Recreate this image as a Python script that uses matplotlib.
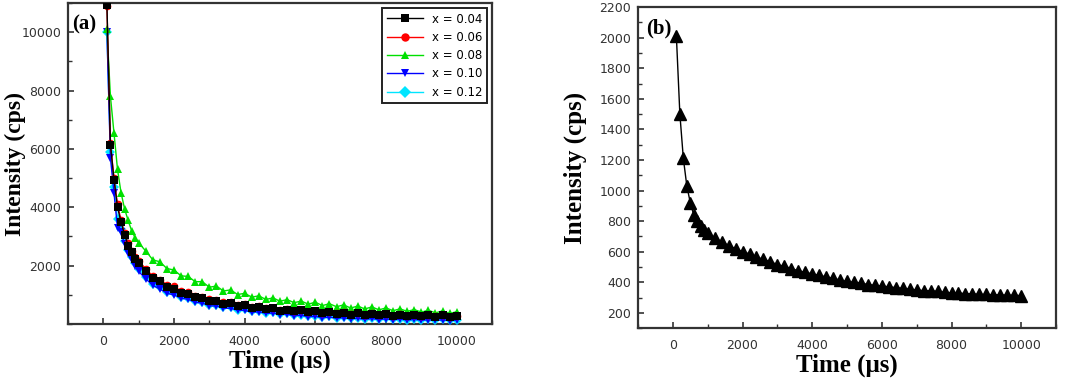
import numpy as np
import matplotlib as mpl

mpl.use('agg')

import matplotlib.pyplot as plt
from matplotlib.ticker import MultipleLocator

# time axis (us): 100..1000 every 100, then every 200 up to 10000
t = np.concatenate([np.arange(100, 1001, 100), np.arange(1200, 10001, 200)])

x004 = [10950, 6150, 4950, 4010, 3490, 3060, 2690, 2460, 2240, 2090,
        1830, 1570, 1470, 1270, 1210, 1060, 1040, 910, 890, 780,
        790, 690, 710, 610, 640, 550, 585, 505, 535, 460,
        495, 430, 465, 395, 430, 370, 410, 345, 385, 325,
        365, 310, 350, 295, 340, 280, 325, 270, 315, 260,
        305, 250, 295, 245, 280]
x006 = [10900, 6200, 5000, 4100, 3550, 3120, 2760, 2500, 2300, 2150,
        1900, 1630, 1520, 1340, 1290, 1130, 1100, 970, 940, 840,
        830, 740, 740, 660, 670, 590, 610, 535, 560, 485,
        515, 450, 480, 415, 445, 385, 420, 360, 395, 340,
        375, 320, 360, 305, 345, 290, 330, 280, 320, 270,
        310, 260, 300, 255, 285]
x008 = [10100, 7800, 6550, 5300, 4500, 3950, 3550, 3200, 2950, 2780,
        2500, 2200, 2130, 1900, 1850, 1650, 1630, 1450, 1450, 1260,
        1300, 1130, 1170, 1010, 1050, 920, 965, 840, 895, 780,
        835, 730, 785, 680, 745, 630, 695, 590, 655, 545,
        615, 515, 585, 485, 550, 455, 520, 430, 495, 405,
        470, 380, 450, 360, 420]
x010 = [10000, 5700, 4500, 3300, 3150, 2750, 2450, 2200, 1980, 1800,
        1550, 1320, 1200, 1050, 1000, 880, 850, 740, 720, 620,
        620, 540, 540, 470, 470, 400, 420, 360, 380, 320,
        340, 280, 300, 245, 265, 210, 240, 190, 220, 170,
        200, 155, 190, 150, 180, 140, 170, 130, 160, 125,
        150, 120, 145, 115, 130]
x012 = [10000, 5900, 4700, 3600, 3250, 2850, 2550, 2300, 2080, 1880,
        1620, 1380, 1260, 1100, 1050, 920, 890, 780, 760, 660,
        650, 570, 570, 495, 500, 430, 445, 380, 400, 340,
        360, 300, 320, 265, 285, 230, 260, 210, 240, 190,
        220, 175, 205, 165, 195, 155, 185, 145, 175, 140,
        165, 135, 160, 130, 150]

series_a = [('x = 0.04', x004, 'k', 's'),
            ('x = 0.06', x006, 'r', 'o'),
            ('x = 0.08', x008, '#00e000', '^'),
            ('x = 0.10', x010, '#0000ff', 'v'),
            ('x = 0.12', x012, '#00e5ff', 'D')]

single_b = [2010, 1500, 1210, 1030, 920, 840, 800, 770, 745, 720,
            690, 665, 640, 620, 600, 585, 565, 550, 535, 515,
            505, 490, 475, 465, 455, 445, 435, 425, 415, 405,
            400, 395, 385, 380, 375, 370, 365, 360, 355, 350,
            345, 345, 340, 335, 330, 330, 325, 325, 320, 320,
            318, 318, 315, 315, 312]

label_font = dict(family='Liberation Serif', weight='bold', size=18)


def style_axes(ax):
    for s in ax.spines.values():
        s.set_linewidth(1.6)
        s.set_color('#333333')
    ax.tick_params(which='both', direction='in', top=False, right=False,
                   labelsize=9, colors='#333333')
    ax.tick_params(which='major', length=4, width=1.2)
    ax.tick_params(which='minor', length=3, width=1.0)
    ax.tick_params(axis='x', pad=8)
    ax.tick_params(axis='y', pad=5)
    ax.xaxis.set_major_locator(MultipleLocator(2000))
    ax.xaxis.set_minor_locator(MultipleLocator(1000))
    ax.set_xlim(-1000, 11000)
    ax.set_xlabel('Time (μs)', fontdict=label_font, labelpad=1)
    ax.set_ylabel('Intensity (cps)', fontdict=label_font)


fig = plt.figure(figsize=(10.87, 3.78), dpi=100)

ax1 = fig.add_axes([0.0626, 0.1429, 0.390, 0.849])
for i, (name, vals, col, mk) in enumerate(series_a):
    ax1.plot(t, vals, color=col, marker=mk, markersize=5.5, linewidth=1,
             markeredgewidth=0, label=name, zorder=10 - i)
style_axes(ax1)
ax1.set_ylabel('Intensity (cps)', family='Liberation Serif', weight='bold',
               size=17)
ax1.set_ylim(0, 11000)
ax1.yaxis.set_minor_locator(MultipleLocator(1000))
ax1.set_yticks([2000, 4000, 6000, 8000, 10000])
ax1.text(0.01, 0.965, '(a)', transform=ax1.transAxes, ha='left', va='top',
         family='Liberation Serif', weight='bold', size=15)
leg = ax1.legend(loc='upper right', fontsize=8.5, fancybox=False,
                 edgecolor='#222222', framealpha=1, borderaxespad=0.4,
                 handlelength=3, labelspacing=0.45, markerscale=1.1)
leg.get_frame().set_linewidth(1.4)
ax1.yaxis.set_label_coords(-0.1, 0.5)

ax2 = fig.add_axes([0.587, 0.132, 0.3845, 0.849])
ax2.plot(t, single_b, color='k', marker='^', markersize=8, linewidth=1)
style_axes(ax2)
ax2.set_ylim(100, 2200)
ax2.set_yticks(np.arange(200, 2201, 200))
ax2.yaxis.set_minor_locator(MultipleLocator(100))
ax2.text(0.02, 0.965, '(b)', transform=ax2.transAxes, ha='left', va='top',
         family='Liberation Serif', weight='bold', size=15)
ax2.yaxis.set_label_coords(-0.122, 0.5)

fig.savefig('out.png', dpi=100)
